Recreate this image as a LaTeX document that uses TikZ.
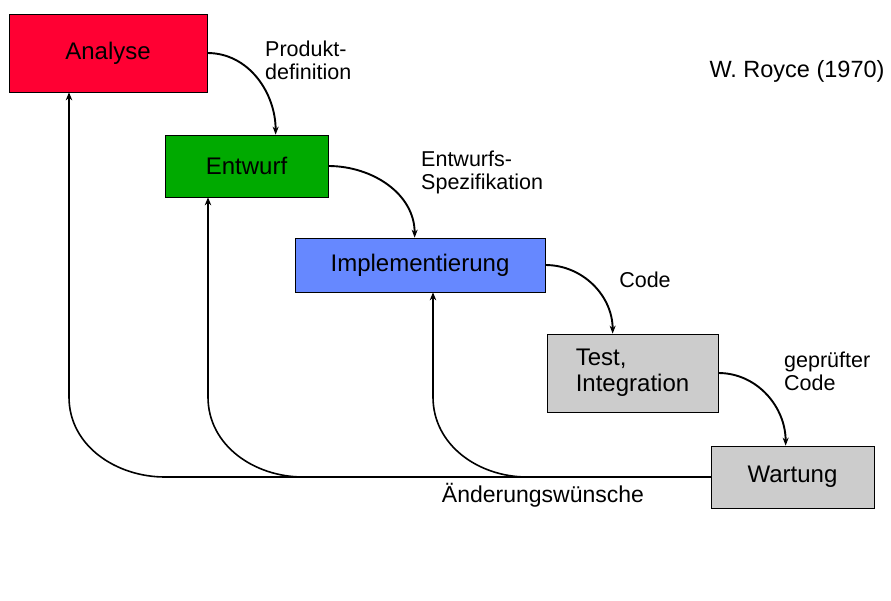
\documentclass[tikz,border=0pt]{standalone}
\usepackage{fontspec}
\setmainfont{Liberation Sans}
\usetikzlibrary{arrows.meta,positioning,calc}
\definecolor{phasered}{RGB}{255,0,51}
\definecolor{phasegreen}{RGB}{0,170,0}
\definecolor{phaseblue}{RGB}{102,136,255}
\definecolor{phasegray}{RGB}{204,204,204}

\begin{document}
\begin{tikzpicture}[x=1pt,y=-1pt,
  phase/.style={draw=black,line width=.7pt,inner sep=2pt,font=\fontsize{24}{26}\selectfont},
  lbl/.style={inner sep=0pt,align=left,font=\fontsize{21.5}{23}\selectfont},
  flow/.style={line width=1.9pt,-{Stealth[length=8pt,width=6pt]}},
  back/.style={line width=2.6pt,-{Stealth[length=8pt,width=6.5pt]}},
  backcurve/.style={line width=1.6pt}]
  \useasboundingbox (0,0) rectangle (891,600);

  \node[phase,fill=phasered,minimum width=198pt,minimum height=78pt] (analyse) at (108,53) {Analyse};
  \node[phase,fill=phasegreen,minimum width=163pt,minimum height=62pt] (entwurf) at (246.5,166) {Entwurf};
  \node[phase,fill=phaseblue,minimum width=250pt,minimum height=54pt] (impl) at (420,265) {Implementierung};
  \node[phase,fill=phasegray,minimum width=171pt,minimum height=78pt,align=left] (test) at (632.5,373) {Test,\\Integration};
  \node[phase,fill=phasegray,minimum width=163pt,minimum height=62pt] (wartung) at (792.5,477) {Wartung};

  \node[lbl,anchor=west] (proddef) at (265,60) {Produkt-\\definition};
  \node[lbl,anchor=west] (spec) at (421,172) {Entwurfs-\\Spezifikation};
  \node[lbl] (code) at (645,280) {Code};
  \node[lbl,anchor=west] (gepcode) at (784,371) {geprüfter\\Code};
  \node[lbl,font=\fontsize{23}{25}\selectfont] (wuensche) at (543,495) {Änderungswünsche};
  \node[lbl,font=\fontsize{23.5}{25}\selectfont] (royce) at (797,71) {W. Royce (1970)};

  % forward flow
  \draw[flow] (analyse.east) to[out=0,in=90] ($(entwurf.north west)+(111,0)$);
  \draw[flow] (entwurf.east) to[out=0,in=90] ($(impl.north west)+(120,0)$);
  \draw[flow] (impl.east) to[out=0,in=90] ($(test.north west)+(66,0)$);
  \draw[flow] (test.east) to[out=0,in=90] ($(wartung.north west)+(75,0)$);

  % feedback
  \coordinate (fa) at (165,477);
  \coordinate (fe) at (303,477);
  \coordinate (fi) at (527,477);
  \draw[line width=2pt] (wartung.west) -- (fa);
  \draw[backcurve] (fa) to[out=180,in=-90] (69,397) coordinate (va);
  \draw[backcurve] (fe) to[out=180,in=-90] (208,397) coordinate (ve);
  \draw[backcurve] (fi) to[out=180,in=-90] (433,397) coordinate (vi);
  \draw[back] (va) -- (va |- analyse.south);
  \draw[back] (ve) -- (ve |- entwurf.south);
  \draw[back] (vi) -- (vi |- impl.south);
\end{tikzpicture}
\end{document}
